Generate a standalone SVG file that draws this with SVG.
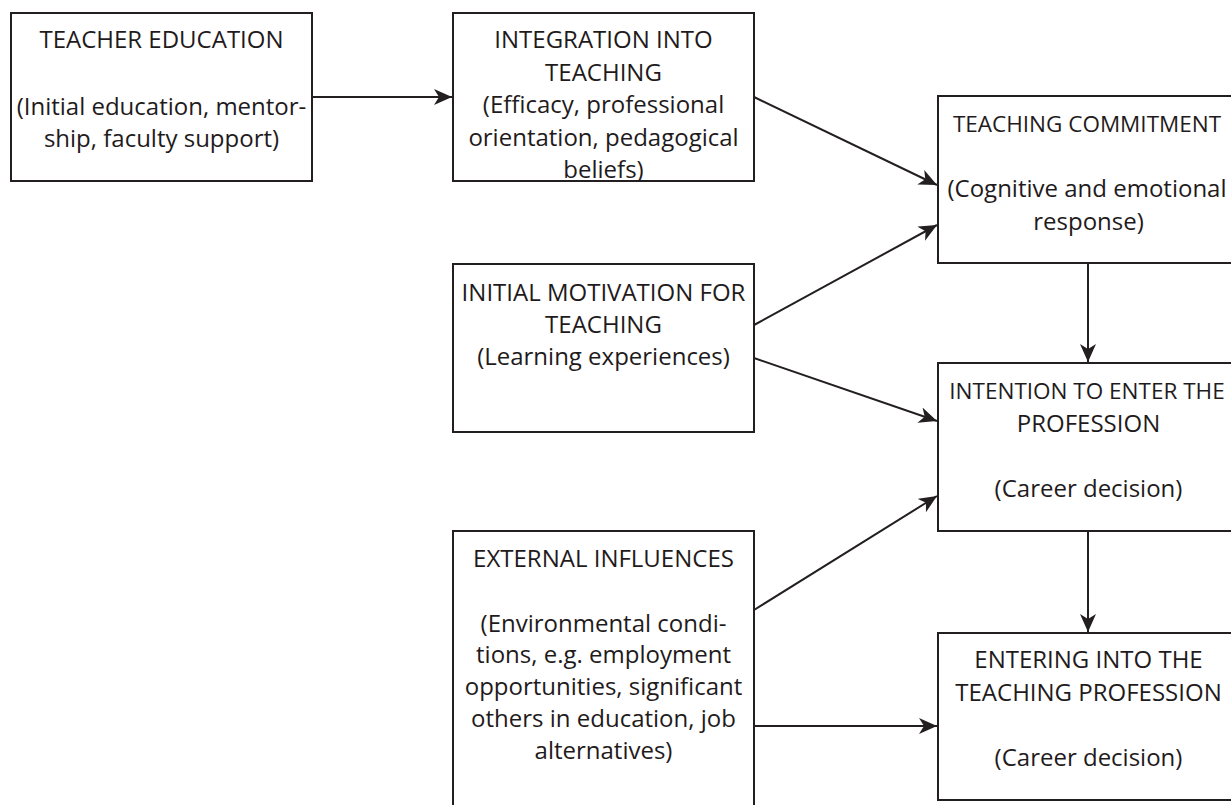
<svg xmlns="http://www.w3.org/2000/svg" width="1231" height="805" viewBox="0 0 1231 805">
<style>
.box{fill:#fff;stroke:#231f20;stroke-width:2}
.t{font-family:"Open Sans","Liberation Sans",sans-serif;font-size:24px;fill:#1f1b1c;text-anchor:middle}
.n{font-size:22.5px}
.c{stroke:#231f20;stroke-width:2;fill:none;marker-end:url(#ah)}
</style>
<defs>
<marker id="ah" markerUnits="userSpaceOnUse" markerWidth="20" markerHeight="18" refX="18" refY="8" orient="auto">
<path d="M0,0 L18,8 L0,16 L5,8 Z" fill="#231f20"/>
</marker>
</defs>
<rect width="1231" height="805" fill="#fff"/>
<g id="connectors">
<line class="c" x1="312" y1="97" x2="452" y2="97"/>
<line class="c" x1="754" y1="97" x2="937" y2="185"/>
<line class="c" x1="754" y1="325" x2="937" y2="225"/>
<line class="c" x1="754" y1="358" x2="937" y2="421"/>
<line class="c" x1="754" y1="610" x2="937" y2="496"/>
<line class="c" x1="754" y1="726" x2="937" y2="726"/>
<line class="c" x1="1088" y1="263" x2="1088" y2="362"/>
<line class="c" x1="1088" y1="531" x2="1088" y2="632"/>
</g>
<g id="teacher-education">
<rect class="box" x="11" y="13" width="301" height="168"/>
<text class="t" x="161.5" y="48">TEACHER EDUCATION</text>
<text class="t" x="161.5" y="115">(Initial education, mentor-</text>
<text class="t" x="161.5" y="147">ship, faculty support)</text>
</g>
<g id="integration">
<rect class="box" x="453" y="13" width="301" height="168"/>
<text class="t" x="603.5" y="48">INTEGRATION INTO</text>
<text class="t" x="603.5" y="81">TEACHING</text>
<text class="t" x="603.5" y="113">(Efficacy, professional</text>
<text class="t" x="603.5" y="146">orientation, pedagogical</text>
<text class="t" x="603.5" y="178">beliefs)</text>
</g>
<g id="commitment">
<rect class="box" x="938" y="96" width="301" height="167"/>
<text class="t n" x="1087" y="132">TEACHING COMMITMENT</text>
<text class="t" x="1087" y="197">(Cognitive and emotional</text>
<text class="t" x="1088.5" y="230">response)</text>
</g>
<g id="motivation">
<rect class="box" x="453" y="264" width="301" height="168"/>
<text class="t" x="603.5" y="301">INITIAL MOTIVATION FOR</text>
<text class="t" x="603.5" y="333">TEACHING</text>
<text class="t" x="603.5" y="365">(Learning experiences)</text>
</g>
<g id="intention">
<rect class="box" x="938" y="363" width="301" height="168"/>
<text class="t n" x="1087" y="399">INTENTION TO ENTER THE</text>
<text class="t" x="1088.5" y="432">PROFESSION</text>
<text class="t" x="1088.5" y="497">(Career decision)</text>
</g>
<g id="external">
<rect class="box" x="453" y="531" width="301" height="290"/>
<text class="t" x="603.5" y="567">EXTERNAL INFLUENCES</text>
<text class="t" x="603.5" y="632">(Environmental condi-</text>
<text class="t" x="603.5" y="663">tions, e.g. employment</text>
<text class="t" x="603.5" y="695">opportunities, significant</text>
<text class="t" x="603.5" y="727">others in education, job</text>
<text class="t" x="603.5" y="759">alternatives)</text>
</g>
<g id="entering">
<rect class="box" x="938" y="633" width="301" height="167"/>
<text class="t" x="1088.5" y="668">ENTERING INTO THE</text>
<text class="t" x="1088.5" y="701">TEACHING PROFESSION</text>
<text class="t" x="1088.5" y="766">(Career decision)</text>
</g>
</svg>
